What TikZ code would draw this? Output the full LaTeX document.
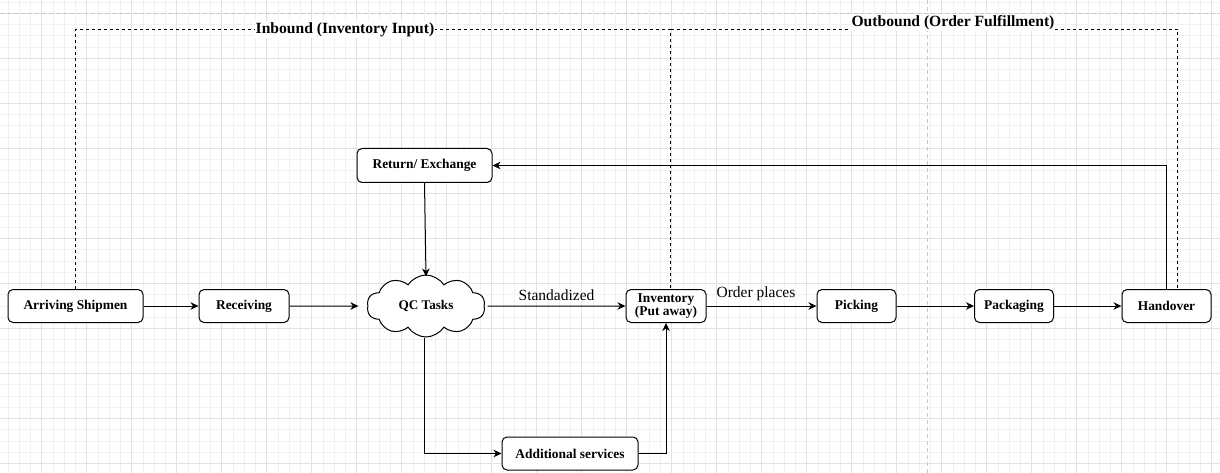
\documentclass[tikz,border=0pt]{standalone}
\usepackage{fontspec}
\setmainfont{Liberation Serif}
\usetikzlibrary{shapes.symbols,arrows.meta}
\definecolor{gridminor}{HTML}{F1F1F1}
\definecolor{gridmajor}{HTML}{E2E2E2}
\definecolor{pagebreak}{HTML}{C8C8C8}
\tikzset{
  box/.style={draw=black, line width=1pt, rounded corners=5pt, fill=white, font=\fontsize{13.4}{14}\selectfont\bfseries, inner sep=0pt, align=center},
  flow/.style={draw=black, line width=1pt, -{Stealth[length=8pt,width=7.5pt,inset=2.5pt]}},
  bound/.style={draw=black, line width=0.9pt, dash pattern=on 3pt off 3pt},
  title/.style={font=\fontsize{15.6}{16}\selectfont\bfseries, fill=white, inner sep=1pt},
  elabel/.style={font=\fontsize{15.5}{16}\selectfont, inner sep=1pt},
}
\begin{document}
\begin{tikzpicture}[x=1pt,y=-1pt]
\useasboundingbox (0,0) rectangle (1220,473);
\fill[white] (0,0) rectangle (1220,473);
% grid
\foreach \x in {7.95,19.2,...,1220} \draw[gridminor, line width=0.6pt] (\x,0) -- (\x,473);
\foreach \y in {2.05,13.3,...,473} \draw[gridminor, line width=0.6pt] (0,\y) -- (1220,\y);
\foreach \x in {41.7,86.7,...,1220} \draw[gridmajor, line width=0.8pt] (\x,0) -- (\x,473);
\foreach \y in {13.3,58.3,...,473} \draw[gridmajor, line width=0.8pt] (0,\y) -- (1220,\y);
% page breaks
\draw[pagebreak, line width=0.8pt, dash pattern=on 4pt off 3pt] (0,13.3) -- (1220,13.3);
\draw[pagebreak, line width=0.8pt, dash pattern=on 4pt off 3pt] (927,0) -- (927,473);

% nodes
\node[box, minimum width=135pt, minimum height=33pt] (arr) at (75.5,306) {Arriving Shipmen};
\node[box, minimum width=90pt, minimum height=33pt] (rec) at (244,306) {Receiving};
\node[cloud, cloud puffs=10, cloud puff arc=115, aspect=2.2, draw=black, line width=1pt, fill=white,
      minimum width=118pt, minimum height=62pt, inner sep=0pt,
      font=\fontsize{13.2}{14}\selectfont\bfseries] (qc) at (426,306) {QC Tasks};
\node[box, minimum width=135pt, minimum height=34pt] (ret) at (424.5,165.5) {Return/ Exchange};
\node[box, minimum width=80pt, minimum height=33pt, font=\fontsize{13.4}{13}\selectfont\bfseries] (inv) at (666,306) {Inventory\\(Put away)};
\node[box, minimum width=79pt, minimum height=33pt] (pick) at (856.5,306) {Picking};
\node[box, minimum width=79pt, minimum height=33pt] (pack) at (1014,306) {Packaging};
\node[box, minimum width=89pt, minimum height=33pt] (hand) at (1166.5,306) {Handover};
\node[box, minimum width=136pt, minimum height=33pt] (add) at (570,453.5) {Additional services};

% boundaries
\coordinate (topy) at (0,29.5);
\coordinate (invd) at (670.5,289.5);
\coordinate (hvd) at (1177.5,289.5);
\draw[bound] (arr.north) -- (arr.north |- topy) -- (invd |- topy) -- (invd);
\draw[bound] (invd |- topy) -- (hvd |- topy) -- (hvd);
\node[title] (inb) at (345,29.5) {Inbound (Inventory Input)};
\node[title] (outb) at (953,22.5) {Outbound (Order Fulfillment)};

% connectors
\draw[flow] (arr.east) -- (rec.west);
\draw[flow] (rec.east) -- ([xshift=-9pt]qc.west);
\draw[flow] (ret.south) -- ([yshift=-2pt]qc.north);
\draw[flow] ([xshift=3pt]qc.east) -- node[elabel, above=4pt] (std) {Standadized} (inv.west);
\draw[flow] (inv.east) -- node[elabel, above=4pt, pos=0.45] (ord) {Order places} (pick.west);
\draw[flow] (pick.east) -- (pack.west);
\draw[flow] (pack.east) -- (hand.west);
\draw[flow] (hand.north) |- (ret.east);
\draw[flow] (qc.south -| ret.south) |- (add.west);
\draw[flow] (add.east) -| (inv.south);
\end{tikzpicture}
\end{document}
